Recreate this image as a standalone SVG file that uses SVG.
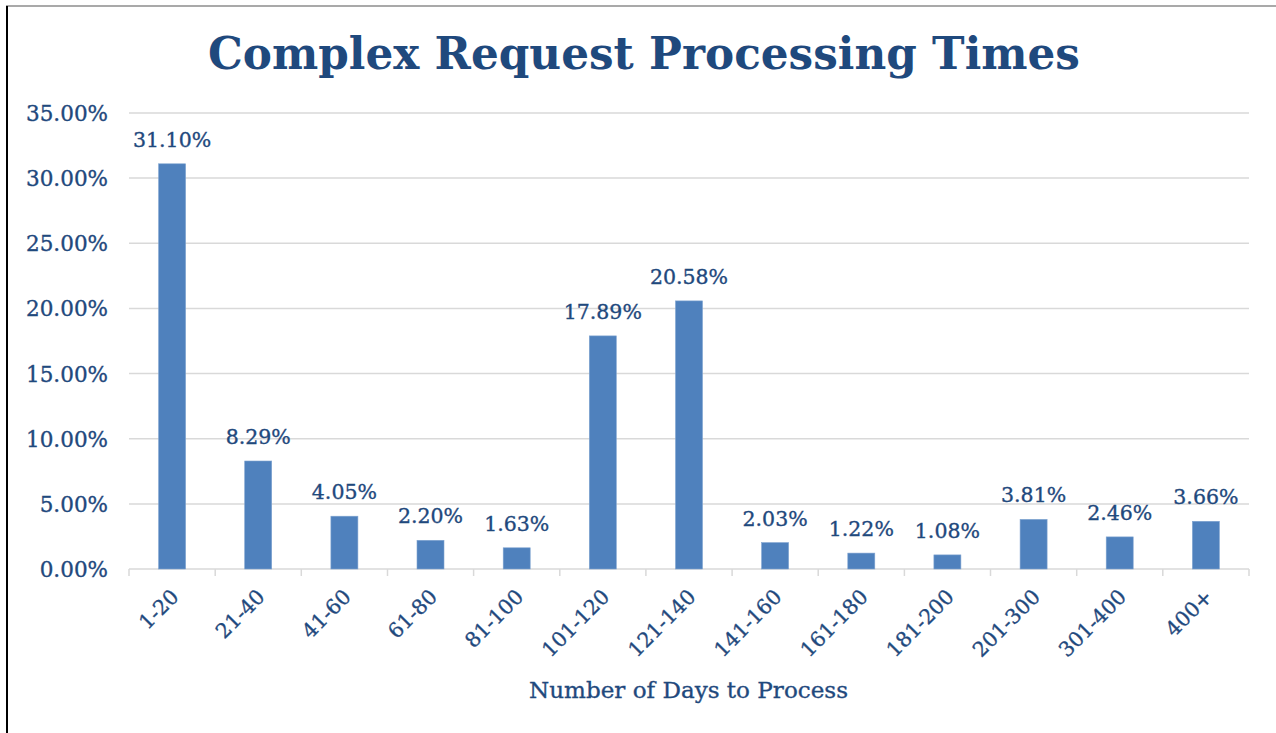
<svg xmlns="http://www.w3.org/2000/svg" width="1276" height="733" viewBox="0 0 1276 733">
<style>
.t{font-family:"DejaVu Serif","Liberation Serif",serif;fill:#1F497D;stroke:#1F497D;stroke-width:0.35}
.title{font-size:45px;font-weight:bold;stroke-width:0}
.ax{font-size:23px}
.yl{font-size:21.5px;text-anchor:end}
.dl{font-size:20.5px;text-anchor:middle}
.xl{font-size:20.5px;text-anchor:end}
.grid{stroke:#D9D9D9;stroke-width:1.5}
.bar{fill:#4F81BD;stroke:#7FA3D0;stroke-width:0.6}
</style>
<rect x="0" y="0" width="1276" height="733" fill="#FFFFFF"/>
<line x1="6" y1="6" x2="1276" y2="6" stroke="#8C8C8C" stroke-width="1.5"/>
<line x1="7" y1="6" x2="7" y2="733" stroke="#000000" stroke-width="2"/>
<g id="title"><text class="t title" x="644" y="69" text-anchor="middle" textLength="872" lengthAdjust="spacingAndGlyphs">Complex Request Processing Times</text></g>
<g id="gridlines">
<line class="grid" x1="129" y1="113" x2="1249" y2="113"/>
<line class="grid" x1="129" y1="178.1" x2="1249" y2="178.1"/>
<line class="grid" x1="129" y1="243.3" x2="1249" y2="243.3"/>
<line class="grid" x1="129" y1="308.4" x2="1249" y2="308.4"/>
<line class="grid" x1="129" y1="373.6" x2="1249" y2="373.6"/>
<line class="grid" x1="129" y1="438.7" x2="1249" y2="438.7"/>
<line class="grid" x1="129" y1="503.9" x2="1249" y2="503.9"/>
<line class="grid" x1="129" y1="569" x2="1249" y2="569"/>
</g>
<g id="ticks" class="grid">
<line x1="129" y1="569" x2="129" y2="576"/>
<line x1="215.2" y1="569" x2="215.2" y2="576"/>
<line x1="301.3" y1="569" x2="301.3" y2="576"/>
<line x1="387.5" y1="569" x2="387.5" y2="576"/>
<line x1="473.6" y1="569" x2="473.6" y2="576"/>
<line x1="559.8" y1="569" x2="559.8" y2="576"/>
<line x1="645.9" y1="569" x2="645.9" y2="576"/>
<line x1="732.1" y1="569" x2="732.1" y2="576"/>
<line x1="818.2" y1="569" x2="818.2" y2="576"/>
<line x1="904.4" y1="569" x2="904.4" y2="576"/>
<line x1="990.5" y1="569" x2="990.5" y2="576"/>
<line x1="1076.7" y1="569" x2="1076.7" y2="576"/>
<line x1="1162.8" y1="569" x2="1162.8" y2="576"/>
<line x1="1249" y1="569" x2="1249" y2="576"/>
</g>
<g id="y-axis-labels">
<text class="t yl" x="108" y="121">35.00%</text>
<text class="t yl" x="108" y="186.1">30.00%</text>
<text class="t yl" x="108" y="251.3">25.00%</text>
<text class="t yl" x="108" y="316.4">20.00%</text>
<text class="t yl" x="108" y="381.6">15.00%</text>
<text class="t yl" x="108" y="446.7">10.00%</text>
<text class="t yl" x="108" y="511.9">5.00%</text>
<text class="t yl" x="108" y="577">0.00%</text>
</g>
<g id="bars">
<rect class="bar" x="158.6" y="163.8" width="27" height="405.2"/>
<rect class="bar" x="244.7" y="461" width="27" height="108"/>
<rect class="bar" x="330.9" y="516.2" width="27" height="52.8"/>
<rect class="bar" x="417" y="540.3" width="27" height="28.7"/>
<rect class="bar" x="503.2" y="547.8" width="27" height="21.2"/>
<rect class="bar" x="589.3" y="335.9" width="27" height="233.1"/>
<rect class="bar" x="675.5" y="300.9" width="27" height="268.1"/>
<rect class="bar" x="761.6" y="542.6" width="27" height="26.4"/>
<rect class="bar" x="847.8" y="553.1" width="27" height="15.9"/>
<rect class="bar" x="933.9" y="554.9" width="27" height="14.1"/>
<rect class="bar" x="1020.1" y="519.4" width="27" height="49.6"/>
<rect class="bar" x="1106.2" y="536.9" width="27" height="32.1"/>
<rect class="bar" x="1192.4" y="521.3" width="27" height="47.7"/>
</g>
<g id="data-labels">
<text class="t dl" x="172.1" y="147">31.10%</text>
<text class="t dl" x="258.2" y="444">8.29%</text>
<text class="t dl" x="344.4" y="499">4.05%</text>
<text class="t dl" x="430.5" y="523">2.20%</text>
<text class="t dl" x="516.7" y="531">1.63%</text>
<text class="t dl" x="602.8" y="319">17.89%</text>
<text class="t dl" x="689" y="284">20.58%</text>
<text class="t dl" x="775.1" y="526">2.03%</text>
<text class="t dl" x="861.3" y="536">1.22%</text>
<text class="t dl" x="947.4" y="538">1.08%</text>
<text class="t dl" x="1033.6" y="502">3.81%</text>
<text class="t dl" x="1119.7" y="520">2.46%</text>
<text class="t dl" x="1205.9" y="504">3.66%</text>
</g>
<g id="x-axis-labels">
<text class="t xl" transform="translate(180,598) rotate(-45)">1-20</text>
<text class="t xl" transform="translate(266.1,598) rotate(-45)">21-40</text>
<text class="t xl" transform="translate(352.3,598) rotate(-45)">41-60</text>
<text class="t xl" transform="translate(438.4,598) rotate(-45)">61-80</text>
<text class="t xl" transform="translate(524.6,598) rotate(-45)">81-100</text>
<text class="t xl" transform="translate(610.7,598) rotate(-45)">101-120</text>
<text class="t xl" transform="translate(696.9,598) rotate(-45)">121-140</text>
<text class="t xl" transform="translate(783,598) rotate(-45)">141-160</text>
<text class="t xl" transform="translate(869.2,598) rotate(-45)">161-180</text>
<text class="t xl" transform="translate(955.3,598) rotate(-45)">181-200</text>
<text class="t xl" transform="translate(1041.5,598) rotate(-45)">201-300</text>
<text class="t xl" transform="translate(1127.6,598) rotate(-45)">301-400</text>
<text class="t xl" transform="translate(1213.8,598) rotate(-45)">400+</text>
</g>
<g id="x-axis-title"><text class="t ax" x="688.5" y="698" text-anchor="middle" textLength="319" lengthAdjust="spacingAndGlyphs">Number of Days to Process</text></g>
</svg>
